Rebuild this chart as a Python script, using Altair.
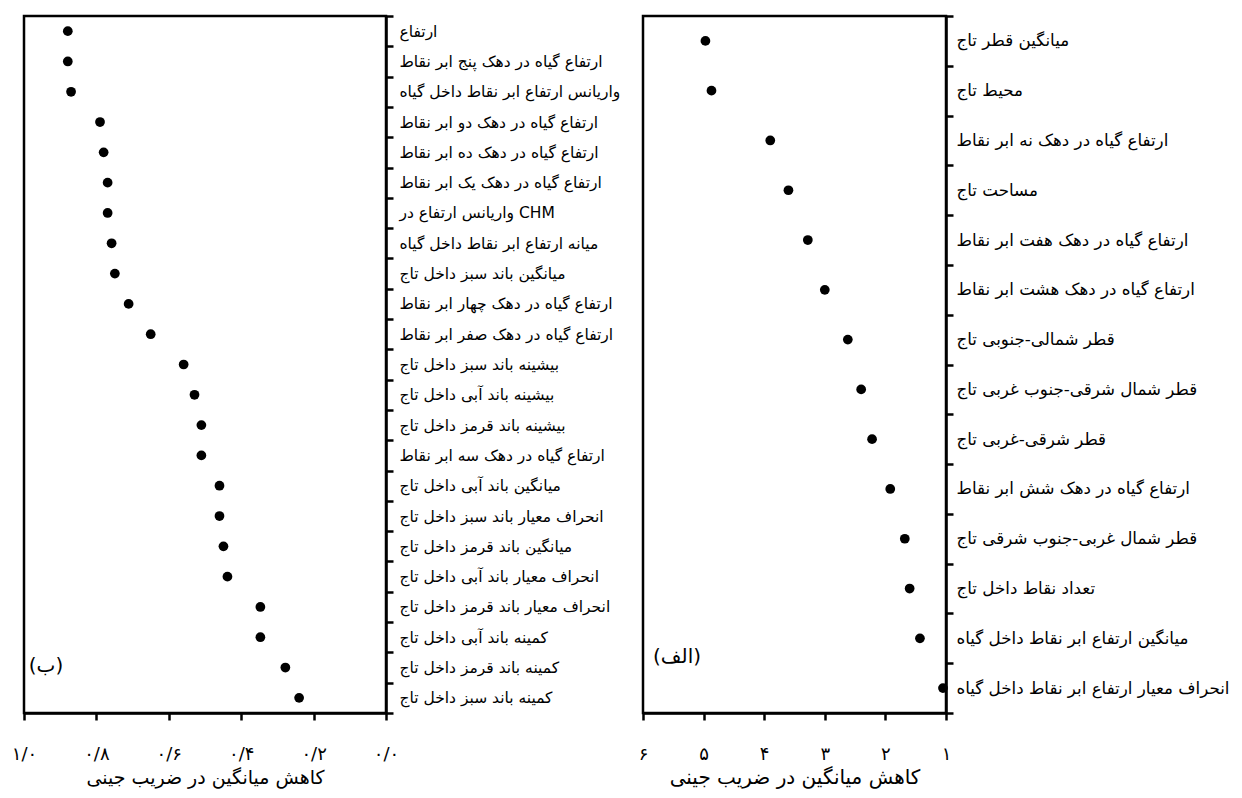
import altair as alt
import pandas as pd

# ---- Panel (ب) : left ----
left_labels = [
    "ارتفاع",
    "ارتفاع گیاه در دهک پنج ابر نقاط",
    "واریانس ارتفاع ابر نقاط داخل گیاه",
    "ارتفاع گیاه در دهک دو ابر نقاط",
    "ارتفاع گیاه در دهک ده ابر نقاط",
    "ارتفاع گیاه در دهک یک ابر نقاط",
    "واریانس ارتفاع در CHM",
    "میانه ارتفاع ابر نقاط داخل گیاه",
    "میانگین باند سبز داخل تاج",
    "ارتفاع گیاه در دهک چهار ابر نقاط",
    "ارتفاع گیاه در دهک صفر ابر نقاط",
    "بیشینه باند سبز داخل تاج",
    "بیشینه باند آبی داخل تاج",
    "بیشینه باند قرمز داخل تاج",
    "ارتفاع گیاه در دهک سه ابر نقاط",
    "میانگین باند آبی داخل تاج",
    "انحراف معیار باند سبز داخل تاج",
    "میانگین باند قرمز داخل تاج",
    "انحراف معیار باند آبی داخل تاج",
    "انحراف معیار باند قرمز داخل تاج",
    "کمینه باند آبی داخل تاج",
    "کمینه باند قرمز داخل تاج",
    "کمینه باند سبز داخل تاج",
]
left_values = [0.879, 0.879, 0.870, 0.790, 0.780, 0.769, 0.769, 0.758, 0.749,
               0.711, 0.650, 0.559, 0.529, 0.510, 0.510, 0.460, 0.460, 0.449,
               0.438, 0.347, 0.347, 0.278, 0.240]
left_ticks = [1.0, 0.8, 0.6, 0.4, 0.2, 0.0]
left_tick_labels = ["۱/۰", "۰/۸", "۰/۶", "۰/۴", "۰/۲", "۰/۰"]

# ---- Panel (الف) : right ----
right_labels = [
    "میانگین قطر تاج",
    "محیط تاج",
    "ارتفاع گیاه در دهک نه ابر نقاط",
    "مساحت تاج",
    "ارتفاع گیاه در دهک هفت ابر نقاط",
    "ارتفاع گیاه در دهک هشت ابر نقاط",
    "قطر شمالی-جنوبی تاج",
    "قطر شمال شرقی-جنوب غربی تاج",
    "قطر شرقی-غربی تاج",
    "ارتفاع گیاه در دهک شش ابر نقاط",
    "قطر شمال غربی-جنوب شرقی تاج",
    "تعداد نقاط داخل تاج",
    "میانگین ارتفاع ابر نقاط داخل گیاه",
    "انحراف معیار ارتفاع ابر نقاط داخل گیاه",
]
right_values = [4.97, 4.87, 3.90, 3.60, 3.28, 3.00, 2.62, 2.40, 2.22, 1.92,
                1.68, 1.60, 1.43, 1.05]
right_ticks = [6, 5, 4, 3, 2, 1]
right_tick_labels = ["۶", "۵", "۴", "۳", "۲", "۱"]

x_title = "کاهش میانگین در ضریب جینی"
left_tag = "(ب)"
right_tag = "(الف)"

FONT = "DejaVu Sans"


def label_expr(ticks, labels):
    expr = "''"
    for t, l in reversed(list(zip(ticks, labels))):
        expr = f"abs(datum.value - ({t})) < 1e-6 ? '{l}' : ({expr})"
    return expr


def panel(labels, values, ticks, tick_labels, domain, width, tag, tag_x, tag_y,
          ylab_size, ylab_pad, label_pad, title_pad, title_size):
    df = pd.DataFrame({"feature": labels, "value": values})
    base = alt.Chart(df)
    pts = base.mark_circle(size=95, color="black", opacity=1).encode(
        x=alt.X(
            "value:Q",
            scale=alt.Scale(domain=domain, reverse=True, nice=False, zero=False),
            axis=alt.Axis(
                values=ticks,
                labelExpr=label_expr(ticks, tick_labels),
                title=x_title,
                grid=False,
                labelPadding=label_pad,
                titlePadding=title_pad,
                labelFontSize=18,
                titleFontSize=title_size,
                titleFontWeight="normal",
                labelFont=FONT,
                titleFont=FONT,
                labelFlush=False,
            ),
        ),
        y=alt.Y(
            "feature:N",
            sort=labels,
            axis=alt.Axis(
                orient="right",
                title=None,
                grid=False,
                tickBand="extent",
                labelFontSize=ylab_size,
                labelFont=FONT,
                labelLimit=400,
                labelPadding=ylab_pad,
            ),
        ),
    )
    tag_df = pd.DataFrame({"t": [tag]})
    txt = alt.Chart(tag_df).mark_text(
        fontSize=20, font=FONT, color="black", align="center", baseline="middle"
    ).encode(x=alt.value(tag_x), y=alt.value(tag_y), text="t:N")
    return alt.layer(pts, txt).properties(width=width, height=697)


left = panel(left_labels, left_values, left_ticks, left_tick_labels, [0, 1], 362,
             left_tag, 22, 650, 15.5, 6, 25, 5, 19)
right = panel(right_labels, right_values, right_ticks, right_tick_labels, [1, 6], 303,
              right_tag, 34, 641, 16.7, 3, 25, 4, 20)

chart = (
    alt.hconcat(left, right, spacing=14)
    .properties(padding={"left": 2, "top": -2, "right": 0, "bottom": 0},
                background="white")
    .configure_view(stroke="black", strokeWidth=2.5)
    .configure_axis(
        domainColor="black",
        domainWidth=2.5,
        tickColor="black",
        tickWidth=2.5,
        tickSize=7,
        labelColor="black",
        titleColor="black",
    )
)

chart.save("out.html", embed_options={"renderer": "svg", "actions": False})
